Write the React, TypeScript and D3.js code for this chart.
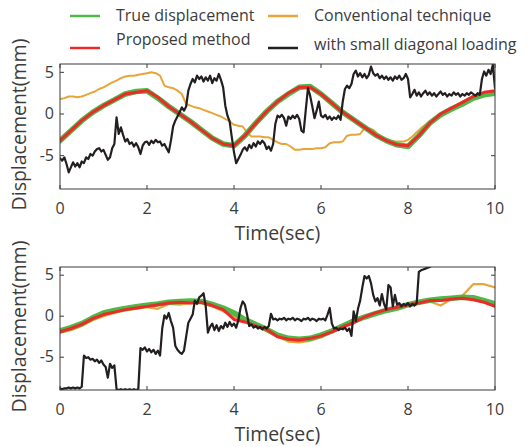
import * as d3 from 'd3'

const W = 528
const H = 447
const FONT = '"Open Sans", sans-serif'
const TEXT = '#3c3c3c'

const GREEN = '#4fb848'
const RED = '#ec2a2a'
const ORANGE = '#e8a53a'
const BLACK = '#231f20'

const X_TICKS = [0, 2, 4, 6, 8, 10]
const Y_TICKS = [-5, 0, 5]

// top panel, sampled every 0.25 s
const topTrue = [
  -3.2, -2.0, -0.8, 0.2, 1.0, 1.7, 2.4, 2.7, 2.8, 1.9, 0.9, 0.0, -0.9, -1.9, -2.9, -3.6, -3.8,
  -2.6, -1.1, 0.3, 1.5, 2.4, 3.2, 3.3, 2.4, 1.3, 0.2, -0.7, -1.6, -2.5, -3.2, -3.7, -3.9, -2.6,
  -1.1, -0.1, 0.6, 1.2, 1.9, 2.3, 2.5,
]
const topProposed = [
  -3.2, -2.0, -0.8, 0.2, 1.0, 1.7, 2.4, 2.6, 2.8, 2.0, 0.9, 0.0, -0.9, -1.9, -2.9, -3.6, -3.8,
  -2.6, -1.1, 0.3, 1.5, 2.5, 3.2, 3.2, 2.4, 1.3, 0.2, -0.7, -1.6, -2.5, -3.2, -3.7, -3.8, -2.6,
  -1.1, 0.0, 0.7, 1.4, 2.1, 2.6, 2.8,
]
// conventional technique, every 0.1 s
const topConventional = [
  1.8, 1.9, 2.1, 2.1, 2.0, 2.1, 2.3, 2.5, 2.7, 3.0, 3.2, 3.5, 3.8, 4.0, 4.3, 4.5, 4.6, 4.6, 4.7,
  4.8, 4.9, 5.0, 4.9, 4.6, 3.4, 3.2, 3.1, 2.8, 2.4, 1.2, 1.0, 0.8, 0.7, 0.5, 0.3, 0.1, -0.1,
  -0.3, -0.6, -0.9, -1.3, -1.4, -1.5, -2.2, -2.7, -2.7, -2.7, -2.8, -2.8, -3.1, -3.4, -3.6, -3.6,
  -3.9, -4.3, -4.3, -4.2, -4.2, -4.2, -4.1, -4.1, -4.0, -3.5, -3.4, -3.4, -3.3, -2.6, -2.5, -2.5,
  -2.4, -1.7, -1.7, -1.9, -2.4, -2.7, -3.0, -3.2, -3.3, -3.3, -3.3, -3.1, -2.7, -2.2, -1.7, -1.3,
  -0.9, -0.5, -0.2, 0.1, 0.4, 0.7, 1.0, 1.3, 1.6, 1.9, 2.2, 2.3, 2.4, 2.5, 2.5, 2.5,
]
// small diagonal loading, every 0.05 s
const topLoading = [
  -5.3, -5.6, -5.2, -6.0, -7.0, -6.4, -5.8, -6.3, -5.9, -6.4, -5.7, -5.9, -5.2, -5.4, -4.8, -5.0,
  -4.5, -4.2, -4.1, -4.5, -4.3, -4.9, -5.5, -5.2, -4.1, -3.6, -0.4, -2.4, -1.6, -2.5, -3.3, -3.0,
  -3.6, -3.4, -3.9, -3.5, -4.0, -4.8, -3.8, -3.4, -3.3, -3.7, -3.2, -3.5, -3.1, -3.4, -3.3, -3.8,
  -3.6, -4.1, -4.6, -3.2, -1.5, -0.8, -0.3, 0.2, 0.8, 0.4, 0.9, 2.8, 3.6, 4.2, 3.8, 4.6, 4.2, 4.5,
  3.9, 4.4, 4.0, 4.6, 3.7, 4.3, 4.0, 4.8, 4.1, 3.2, 1.0, -0.2, -0.9, -2.8, -4.6, -5.9, -5.4, -4.9,
  -4.3, -4.0, -4.4, -3.7, -4.1, -3.5, -3.9, -3.3, -3.6, -3.2, -3.5, -4.2, -3.9, -4.4, -3.6, -1.2,
  -0.2, -0.4, -0.1, -0.5, -1.4, -0.3, -0.6, -0.2, -0.5, -0.1, -0.6, -2.0, -2.2, 0.5, 3.1, 2.2, 0.9,
  -0.5, 0.4, 1.5, -0.2, -0.4, -0.1, -0.6, -0.3, -0.7, -0.4, -0.6, -0.2, -0.7, 1.5, 3.0, 3.4, 3.1,
  3.6, 4.8, 5.2, 4.5, 4.9, 4.4, 4.8, 4.3, 4.7, 5.7, 4.9, 4.6, 4.8, 4.3, 4.6, 4.2, 4.5, 4.1, 4.4,
  4.0, 4.5, 4.2, 4.6, 4.1, 4.3, 4.8, 4.2, 2.0, 2.4, 2.9, 2.2, 2.6, 2.1, 2.5, 2.8, 2.3, 2.6, 2.2,
  2.5, 2.1, 2.4, 2.7, 2.3, 2.5, 2.1, 2.4, 2.2, 2.6, 2.3, 2.5, 2.1, 2.4, 2.2, 2.5, 2.3, 2.6, 2.4,
  2.2, 2.5, 2.3, 4.2, 5.1, 4.6, 5.3, 4.8, 5.9, 3.1,
]

// bottom panel
const botTrue = [
  -1.8, -1.4, -0.9, -0.2, 0.4, 0.7, 0.95, 1.15, 1.35, 1.5, 1.7, 1.8, 1.85, 1.8, 1.45, 1.0, 0.4,
  -0.4, -1.0, -1.6, -2.3, -2.7, -2.8, -2.7, -2.3, -1.8, -1.2, -0.6, -0.1, 0.3, 0.7, 1.0, 1.4, 1.7,
  1.95, 2.1, 2.2, 2.3, 2.25, 1.9, 1.5,
]
const botProposed = [
  -1.9, -1.5, -1.0, -0.3, 0.2, 0.5, 0.8, 1.0, 1.2, 1.4, 1.6, 1.7, 1.6, 1.7, 1.3, 0.8, -0.4, -0.7,
  -1.2, -1.6, -2.5, -2.8, -2.9, -2.7, -2.4, -1.9, -1.3, -0.8, -0.1, 0.4, 0.8, 1.1, 1.4, 1.6, 1.9,
  1.9, 2.1, 2.2, 2.0, 1.7, 1.2,
]
const botConventional = [
  -2.0, -1.7, -1.2, -0.5, 0.0, 0.4, 0.7, 0.9, 1.1, 0.9, 1.5, 1.4, 1.6, 1.6, 1.2, 0.6, 0.0, -0.6,
  -1.2, -1.8, -2.5, -3.1, -3.2, -3.0, -2.6, -1.9, -1.4, -0.6, -0.2, 0.3, 0.7, 1.1, 1.3, 1.7, 1.8,
  1.3, 2.1, 2.5, 3.9, 3.9, 3.5,
]
const botLoading = [
  -8.8, -8.9, -8.8, -8.8, -8.7, -8.8, -8.7, -8.8, -8.7, -8.8, -8.6, -4.8, -5.1, -5.0, -5.3, -5.2,
  -5.5, -5.3, -5.7, -5.4, -5.9, -6.2, -7.5, -5.8, -6.3, -6.0, -8.9, -9.0, -8.9, -9.0, -8.9, -9.0,
  -8.9, -9.0, -8.9, -9.0, -8.9, -3.9, -4.1, -3.8, -4.3, -4.0, -4.4, -4.1, -4.6, -4.2, -4.8, -1.5,
  0.1, -0.3, 0.4, -0.6, -1.4, -3.6, -4.1, -4.4, -4.6, -4.2, -2.5, -0.8, -0.3, 0.2, 1.9, 1.5, 2.3,
  2.5, 2.8, 1.2, -2.0, -1.3, -0.9, -1.7, -1.1, -1.8, -1.2, -1.5, -0.8, -1.3, -0.7, -1.2, -0.9,
  -1.4, -0.5, 1.0, 1.8, 1.4, 0.2, -1.2, -1.0, -1.4, -1.2, -1.5, -1.3, -1.6, -1.3, -1.5, -1.2, 0.3,
  -0.4, -0.3, -0.5, -0.3, -0.4, -0.2, -0.5, -0.3, -0.4, -0.2, -0.5, -0.3, -0.4, -0.6, -0.3, -0.4,
  -0.2, -0.5, -0.3, -0.4, -0.6, -0.3, -0.4, -0.3, -0.5, 0.2, 1.0, -0.9, -1.5, -1.4, -1.7, -1.5,
  -1.6, -1.4, -1.8, -1.5, -2.4, 0.6, -0.6, 0.9, 1.9, 3.5, 4.9, 4.6, 4.9, 4.0, 2.6, 1.8, 2.2, 1.3,
  2.7, 1.5, 0.8, 3.8, 3.5, 1.2, 2.6, 1.4, 1.6, 1.2, 1.5, 1.3, 1.6, 1.2, 1.5, 1.3, 1.6, 5.4, 5.6,
  5.7, 5.8, 5.9, 6.0, 6.2, 6.6, 6.9, 7.2, 7.0, 7.4, 7.1, 7.5, 7.3, 7.6, 7.2, 7.5, 7.7, 7.4, 7.8,
  7.5, 7.9, 7.6, 7.8, 8.0, 7.7, 7.9, 8.1,
]

const legendItems = [
  { label: 'True displacement', color: GREEN, col: 0, row: 0 },
  { label: 'Conventional technique', color: ORANGE, col: 1, row: 0 },
  { label: 'Proposed method', color: RED, col: 0, row: 1 },
  { label: 'with small diagonal loading', color: BLACK, col: 1, row: 1 },
]

const x = d3.scaleLinear().domain([0, 10]).range([60, 495])

const toPoints = (vals: number[], step: number) => vals.map((v, i) => [i * step, v] as [number, number])

function Panel({ id, top, bottom, series }: { id: string; top: number; bottom: number; series: any[] }) {
  const y = d3.scaleLinear().domain([-9, 6]).range([bottom, top])
  const line = d3
    .line<[number, number]>()
    .x((d) => x(d[0]))
    .y((d) => y(d[1]))
  const [x0, x1] = x.range()
  const axisColor = '#3a3a3a'
  return (
    <g>
      <defs>
        <clipPath id={id}>
          <rect x={x0} y={top} width={x1 - x0} height={bottom - top} />
        </clipPath>
      </defs>
      <g clipPath={`url(#${id})`}>
        {series.map((s, i) => (
          <path
            key={i}
            d={line(toPoints(s.values, s.step)) || ''}
            fill="none"
            stroke={s.color}
            strokeWidth={s.width}
            strokeLinejoin="round"
            strokeLinecap="round"
          />
        ))}
      </g>
      <rect x={x0} y={top} width={x1 - x0} height={bottom - top} fill="none" stroke={axisColor} strokeWidth={1} />
      {X_TICKS.map((t) => (
        <g key={'x' + t}>
          <line x1={x(t)} x2={x(t)} y1={bottom} y2={bottom - 4} stroke={axisColor} />
          <line x1={x(t)} x2={x(t)} y1={top} y2={top + 4} stroke={axisColor} />
          <text x={x(t)} y={bottom + 21} textAnchor="middle" dominantBaseline="middle" fontSize={16} fill={TEXT}>
            {t}
          </text>
        </g>
      ))}
      {Y_TICKS.map((t) => (
        <g key={'y' + t}>
          <line x1={x0} x2={x0 + 4} y1={y(t)} y2={y(t)} stroke={axisColor} />
          <line x1={x1} x2={x1 - 4} y1={y(t)} y2={y(t)} stroke={axisColor} />
          <text x={x0 - 6} y={y(t) + 1} textAnchor="end" dominantBaseline="middle" fontSize={16} fill={TEXT}>
            {t}
          </text>
        </g>
      ))}
      <text x={(x0 + x1) / 2} y={bottom + 46} textAnchor="middle" dominantBaseline="middle" fontSize={19.5} fill={TEXT}>
        Time(sec)
      </text>
      <text
        transform={`translate(21,${(top + bottom) / 2 - 2}) rotate(-90)`}
        textAnchor="middle"
        dominantBaseline="middle"
        fontSize={19.5}
        fill={TEXT}
      >
        Displacement(mm)
      </text>
    </g>
  )
}

export default function App() {
  const topSeries = [
    { values: topConventional, step: 0.1, color: ORANGE, width: 2 },
    { values: topTrue, step: 0.25, color: GREEN, width: 5.5 },
    { values: topProposed, step: 0.25, color: RED, width: 3 },
    { values: topLoading, step: 0.05, color: BLACK, width: 2.2 },
  ]
  const botSeries = [
    { values: botConventional, step: 0.25, color: ORANGE, width: 2.2 },
    { values: botTrue, step: 0.25, color: GREEN, width: 5.5 },
    { values: botProposed, step: 0.25, color: RED, width: 3 },
    { values: botLoading, step: 0.05, color: BLACK, width: 2.2 },
  ]
  return (
    <svg width={W} height={H} style={{ position: 'absolute', left: 0, top: 0, background: '#fff' }} fontFamily={FONT}>
      {legendItems.map((d) => {
        const lx = d.col === 0 ? 70 : 268
        const ly = d.row === 0 ? 16 : 48
        const ty = d.row === 0 ? 17 : d.col === 0 ? 41 : 46
        return (
          <g key={d.label}>
            <line x1={lx} x2={lx + 30} y1={ly} y2={ly} stroke={d.color} strokeWidth={2.5} />
            <text x={lx + 46} y={ty} dominantBaseline="middle" fontSize={16} fill={TEXT}>
              {d.label}
            </text>
          </g>
        )
      })}
      <Panel id="clipTop" top={64} bottom={189} series={topSeries} />
      <Panel id="clipBot" top={267} bottom={390} series={botSeries} />
    </svg>
  )
}
